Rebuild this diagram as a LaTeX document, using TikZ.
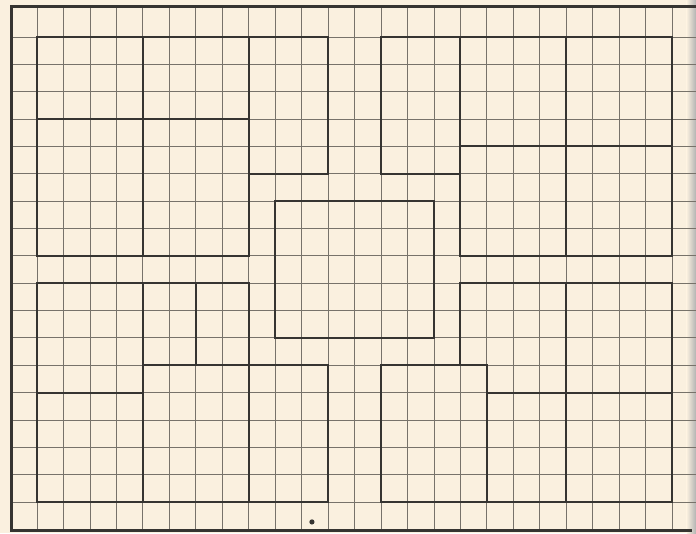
\documentclass[tikz,border=0pt]{standalone}
\usepackage{xcolor}
\usepackage{tikz}
\definecolor{paper}{HTML}{FAF0DF}
\definecolor{gridink}{HTML}{77726A}
\definecolor{penink}{HTML}{363431}

\begin{document}
\begin{tikzpicture}[
  x=26.46pt, y=-27.35pt,
  gridline/.style={draw=gridink, line width=0.8pt},
  border/.style={draw=penink, line width=3pt, line join=miter},
  square/.style={draw=penink, line width=1.9pt, line join=miter, line cap=rect}
]
  \fill[paper] (-1.398,-1.353) rectangle (24.905,18.135);
  \useasboundingbox (-1.398,-1.353) rectangle (24.905,18.135);
  \shade[left color=paper, right color=black!30] (24.55,-1.353) rectangle (24.905,18.135);
  \foreach \i in {0,...,24} \draw[gridline] (\i,-1.1) -- (\i,18.03);
  \foreach \j in {0,...,17} \draw[gridline] (-0.98,\j) -- (24.905,\j);
  \draw[border] (24.905,-1.1) -- (-0.98,-1.1) -- (-0.98,18.03) -- (24.75,18.03);

  % top left
  \draw[square] (0,0) rectangle (8,8);
  \draw[square] (4,0) -- (4,8);
  \draw[square] (0,3) -- (8,3);
  \draw[square] (8,0) rectangle (11,5);
  % top right
  \draw[square] (13,0) rectangle (16,5);
  \draw[square] (16,0) rectangle (24,8);
  \draw[square] (20,0) -- (20,8);
  \draw[square] (16,4) -- (24,4);
  % centre
  \draw[square] (9,6) rectangle (15,11);
  % bottom left
  \draw[square] (0,9) rectangle (8,17);
  \draw[square] (0,13) -- (4,13);
  \draw[square] (4,9) -- (4,17);
  \draw[square] (6,9) -- (6,12);
  \draw[square] (4,12) rectangle (11,17);
  % bottom right
  \draw[square] (13,12) rectangle (17,17);
  \draw[square] (16,12) -- (16,9) -- (24,9) -- (24,17) -- (17,17);
  \draw[square] (17,13) -- (24,13);
  \draw[square] (20,9) -- (20,17);

  \fill[penink] (10.39,17.73) circle[radius=2.6pt];
\end{tikzpicture}
\end{document}
